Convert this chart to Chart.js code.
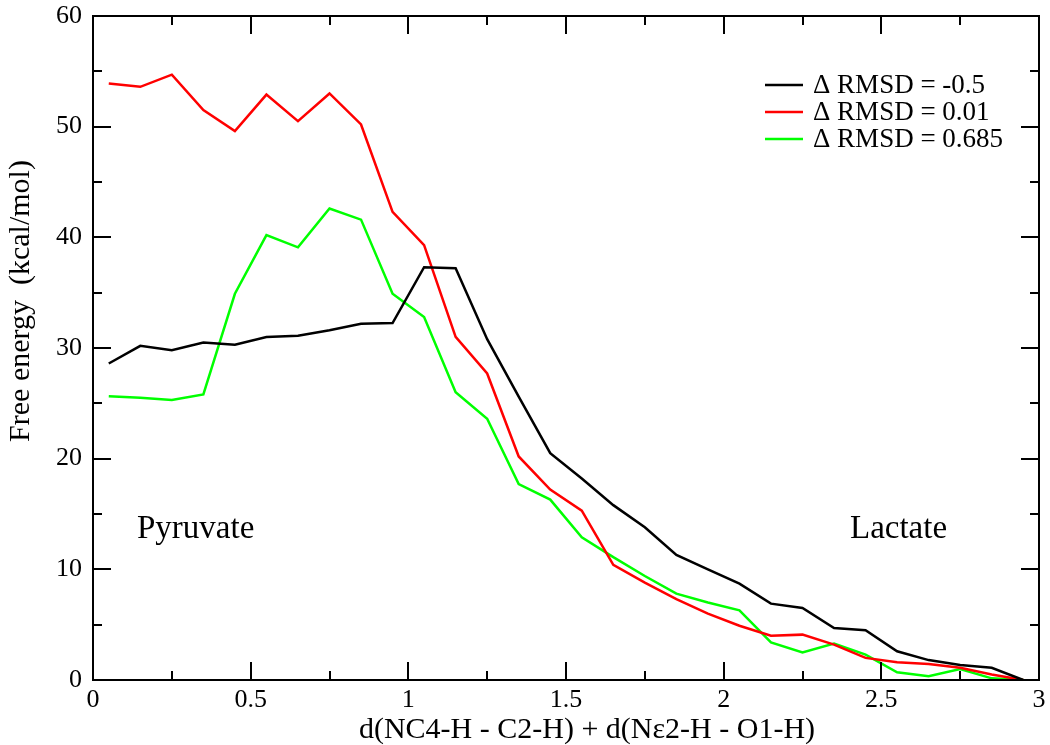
<!DOCTYPE html>
<html>
<head>
<meta charset="utf-8">
<script src="https://cdn.jsdelivr.net/npm/chart.js@4/dist/chart.umd.min.js"></script>
<style>
  html, body { margin: 0; padding: 0; background: #fff; }
  #wrap { width: 1050px; height: 745px; }
</style>
</head>
<body>
<div id="wrap"><canvas id="freeEnergyChart" width="1050" height="745"></canvas></div>
<script>
// reaction coordinate bins
const xValues = [0.05, 0.15, 0.25, 0.35, 0.45, 0.55, 0.65, 0.75, 0.85, 0.95,
  1.05, 1.15, 1.25, 1.35, 1.45, 1.55, 1.65, 1.75, 1.85, 1.95,
  2.05, 2.15, 2.25, 2.35, 2.45, 2.55, 2.65, 2.75, 2.85, 2.95];

// free energy profiles (kcal/mol)
const rmsdNeg05 = [28.6, 30.2, 29.8, 30.5, 30.3, 31.0, 31.1, 31.6, 32.2, 32.25,
  37.3, 37.2, 30.8, 25.6, 20.5, 18.2, 15.8, 13.8, 11.3, 10.0,
  8.7, 6.9, 6.5, 4.7, 4.5, 2.6, 1.8, 1.35, 1.1, 0];
const rmsd001 = [53.9, 53.6, 54.7, 51.5, 49.6, 52.9, 50.5, 53.0, 50.2, 42.3,
  39.3, 31.0, 27.7, 20.2, 17.2, 15.3, 10.4, 8.8, 7.3, 6.0,
  4.9, 4.0, 4.1, 3.2, 2.0, 1.6, 1.45, 1.1, 0.5, 0];
const rmsd0685 = [25.65, 25.5, 25.3, 25.8, 34.9, 40.2, 39.1, 42.6, 41.6, 34.9,
  32.8, 26.0, 23.6, 17.7, 16.3, 12.9, 11.1, 9.4, 7.8, 7.0,
  6.3, 3.4, 2.5, 3.3, 2.3, 0.7, 0.35, 1.0, 0.15, 0];

const seriesLabels = ['\u0394 RMSD = -0.5', '\u0394 RMSD = 0.01', '\u0394 RMSD = 0.685'];
const seriesColors = ['#000000', '#ff0000', '#00ff00'];

// axis ticks
const xMajorTicks = [0, 0.5, 1, 1.5, 2, 2.5, 3];
const xTickLabels = ['0', '0.5', '1', '1.5', '2', '2.5', '3'];
const xMinorTicks = [0.25, 0.75, 1.25, 1.75, 2.25, 2.75];
const yMajorTicks = [0, 10, 20, 30, 40, 50, 60];
const yTickLabels = ['0', '10', '20', '30', '40', '50', '60'];
const yMinorTicks = [5, 15, 25, 35, 45, 55];

const xTitle = 'd(NC4-H - C2-H) + d(N\u03b52-H - O1-H)';
const yTitle = 'Free energy  (kcal/mol)';

const FONT = '"Liberation Serif", "DejaVu Serif", serif';

function toPoints(ys) {
  return ys.map((y, i) => ({ x: xValues[i], y: y }));
}

// frame, inward ticks, legend, titles and labels (xmgrace look)
const graceDecor = {
  id: 'graceDecor',
  afterDraw(chart) {
    const ctx = chart.ctx;
    const a = chart.chartArea;
    const xs = chart.scales.x;
    const ys = chart.scales.y;
    ctx.save();
    ctx.strokeStyle = '#000';
    ctx.lineWidth = 2;
    ctx.strokeRect(a.left, a.top, a.right - a.left, a.bottom - a.top);

    const drawX = (vals, len) => {
      vals.forEach(v => {
        const px = Math.round(xs.getPixelForValue(v));
        ctx.beginPath();
        ctx.moveTo(px, a.bottom); ctx.lineTo(px, a.bottom - len);
        ctx.moveTo(px, a.top); ctx.lineTo(px, a.top + len);
        ctx.stroke();
      });
    };
    const drawY = (vals, len) => {
      vals.forEach(v => {
        const py = Math.round(ys.getPixelForValue(v));
        ctx.beginPath();
        ctx.moveTo(a.left, py); ctx.lineTo(a.left + len, py);
        ctx.moveTo(a.right, py); ctx.lineTo(a.right - len, py);
        ctx.stroke();
      });
    };
    drawX(xMajorTicks, 18);
    drawX(xMinorTicks, 9);
    drawY(yMajorTicks, 18);
    drawY(yMinorTicks, 9);

    // legend
    ctx.font = '27px ' + FONT;
    ctx.textAlign = 'left';
    ctx.textBaseline = 'middle';
    const rows = [85, 112, 139];
    seriesLabels.forEach((lab, i) => {
      ctx.strokeStyle = seriesColors[i];
      ctx.lineWidth = 2.5;
      ctx.beginPath();
      ctx.moveTo(765, rows[i]); ctx.lineTo(803, rows[i]);
      ctx.stroke();
      ctx.fillStyle = '#000';
      ctx.fillText(lab, 813, rows[i] + 1);
    });

    // region labels
    ctx.font = '33px ' + FONT;
    ctx.textBaseline = 'alphabetic';
    ctx.fillText('Pyruvate', 137, 538);
    ctx.fillText('Lactate', 850, 538);

    // axis titles
    ctx.font = '30px ' + FONT;
    ctx.textAlign = 'center';
    ctx.fillText(xTitle, 587, 738);
    ctx.save();
    ctx.translate(21, 301);
    ctx.rotate(-Math.PI / 2);
    ctx.textBaseline = 'middle';
    ctx.fillText(yTitle, 0, 0);
    ctx.restore();

    ctx.restore();
  }
};

const datasets = [rmsdNeg05, rmsd001, rmsd0685].map((ys, i) => ({
  label: seriesLabels[i],
  data: toPoints(ys),
  borderColor: seriesColors[i],
  backgroundColor: seriesColors[i],
  borderWidth: 2.5,
  pointRadius: 0,
  tension: 0,
  fill: false
}));

new Chart(document.getElementById('freeEnergyChart'), {
  type: 'line',
  data: { datasets: datasets },
  options: {
    responsive: false,
    animation: false,
    events: [],
    layout: { padding: { top: 16, right: 11, left: 0, bottom: 0 } },
    plugins: {
      legend: { display: false },
      tooltip: { enabled: false }
    },
    scales: {
      x: {
        type: 'linear',
        min: 0,
        max: 3,
        afterBuildTicks: s => { s.ticks = xMajorTicks.map(v => ({ value: v })); },
        afterFit: s => { s.height = 65; s.paddingLeft = 0; s.paddingRight = 0; },
        grid: { display: false, drawTicks: false },
        border: { display: false },
        ticks: {
          color: '#000',
          padding: 5,
          maxRotation: 0,
          font: { family: FONT, size: 26 },
          callback: v => xTickLabels[xMajorTicks.indexOf(v)]
        }
      },
      y: {
        type: 'linear',
        min: 0,
        max: 60,
        afterBuildTicks: s => { s.ticks = yMajorTicks.map(v => ({ value: v })); },
        afterFit: s => { s.width = 93; s.paddingTop = 0; s.paddingBottom = 0; },
        grid: { display: false, drawTicks: false },
        border: { display: false },
        ticks: {
          color: '#000',
          padding: 11,
          font: { family: FONT, size: 26 },
          callback: v => yTickLabels[yMajorTicks.indexOf(v)]
        }
      }
    }
  },
  plugins: [graceDecor]
});
</script>
</body>
</html>
